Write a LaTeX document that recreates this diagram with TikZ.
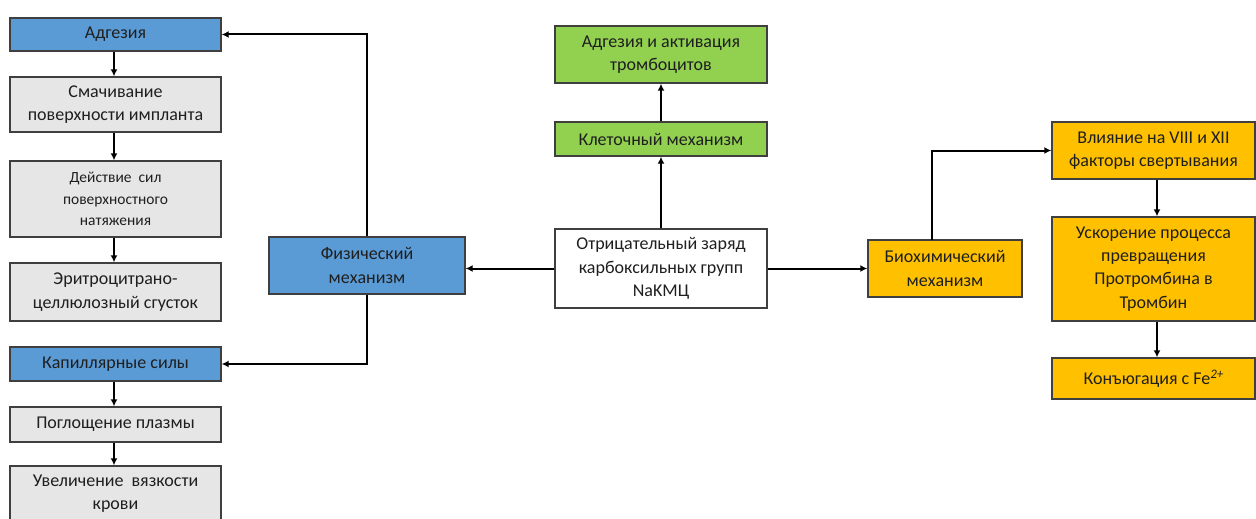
\documentclass[tikz,border=0pt]{standalone}
\usepackage{fontspec}
\setmainfont{Carlito}
\usetikzlibrary{arrows.meta}
\definecolor{bblue}{HTML}{5B9BD5}
\definecolor{bgray}{HTML}{E7E6E6}
\definecolor{bgreen}{HTML}{92D050}
\definecolor{bgold}{HTML}{FFC000}
\definecolor{bord}{HTML}{3F3F3F}
\definecolor{txt}{HTML}{1F1F1F}
\begin{document}
\begin{tikzpicture}[x=1pt,y=-1pt,
  box/.style={draw=bord, line width=1.4pt, inner sep=0pt, align=center, text=txt,
    font=\fontsize{18}{23.3}\selectfont},
  sbox/.style={box, font=\fontsize{15.5}{21.5}\selectfont},
  conn/.style={line width=2pt, draw=black, -{Latex[length=7pt,width=7pt]}}]
\useasboundingbox (0,0) rectangle (1256,519);
\fill[white] (0,0) rectangle (1256,519);
% left column
\node[box, fill=bblue, minimum width=211pt, minimum height=33pt] (adg) at (115.5,34.5) {Адгезия};
\node[box, fill=bgray, minimum width=211pt, minimum height=55pt] (smach) at (115.5,104.5) {Смачивание\\поверхности импланта};
\node[sbox, fill=bgray, minimum width=211pt, minimum height=76pt] (deistv) at (115.5,199) {Действие\ \ сил\\поверхностного\\натяжения};
\node[box, fill=bgray, minimum width=211pt, minimum height=58pt] (eritr) at (115.5,292) {Эритроцитрано-\\целлюлозный сгусток};
\node[box, fill=bblue, minimum width=211pt, minimum height=34pt] (kap) at (115.5,364) {Капиллярные силы};
\node[box, fill=bgray, minimum width=211pt, minimum height=35pt] (pogl) at (115.5,424.5) {Поглощение плазмы};
\node[box, fill=bgray, minimum width=211pt, minimum height=56pt] (uvel) at (115.5,494) {Увеличение\ \ вязкости\\крови};
% physical
\node[box, fill=bblue, minimum width=196pt, minimum height=57pt] (phys) at (367,265.5) {Физический\\механизм};
% center
\node[box, fill=white, minimum width=212pt, minimum height=79pt] (cen) at (661,268.5) {Отрицательный заряд\\карбоксильных групп\\NaKMЦ};
\node[box, fill=bgreen, minimum width=212pt, minimum height=57pt] (adgact) at (661,54.5) {Адгезия и активация\\тромбоцитов};
\node[box, fill=bgreen, minimum width=212pt, minimum height=34pt] (klet) at (661,139) {Клеточный механизм};
% right
\node[box, fill=bgold, minimum width=154pt, minimum height=57pt] (bio) at (945,268.5) {Биохимический\\механизм};
\node[box, fill=bgold, minimum width=203pt, minimum height=57pt] (vliy) at (1153.5,150.5) {Влияние на VIII и XII\\факторы свертывания};
\node[box, fill=bgold, minimum width=203pt, minimum height=104pt] (usk) at (1153.5,269) {Ускорение процесса\\превращения\\Протромбина в\\Тромбин};
\node[box, fill=bgold, minimum width=203pt, minimum height=41pt] (konj) at (1153.5,378.5) {Конъюгация с Fe\raisebox{6pt}{\fontsize{13}{13}\selectfont\itshape 2+}};
% connectors left column
\draw[conn] (adg.south -| 114,0) -- (smach.north -| 114,0);
\draw[conn] (smach.south -| 114,0) -- (deistv.north -| 114,0);
\draw[conn] (deistv.south -| 114,0) -- (eritr.north -| 114,0);
\draw[conn] (kap.south -| 114,0) -- (pogl.north -| 114,0);
\draw[conn] (pogl.south -| 114,0) -- (uvel.north -| 114,0);
% phys
\draw[conn] (phys.north) |- (adg.east);
\draw[conn] (phys.south) |- (kap.east);
% center
\draw[conn] (cen.west) -- (cen.west -| phys.east);
\draw[conn] (cen.east) -- (bio.west);
\draw[conn] (cen.north) -- (klet.south);
\draw[conn] (klet.north) -- (adgact.south);
% right
\coordinate (bt) at (932,240);
\draw[conn] (bt) |- (vliy.west);
\draw[conn] (vliy.south -| 1157,0) -- (usk.north -| 1157,0);
\draw[conn] (usk.south -| 1157,0) -- (konj.north -| 1157,0);
\end{tikzpicture}
\end{document}
